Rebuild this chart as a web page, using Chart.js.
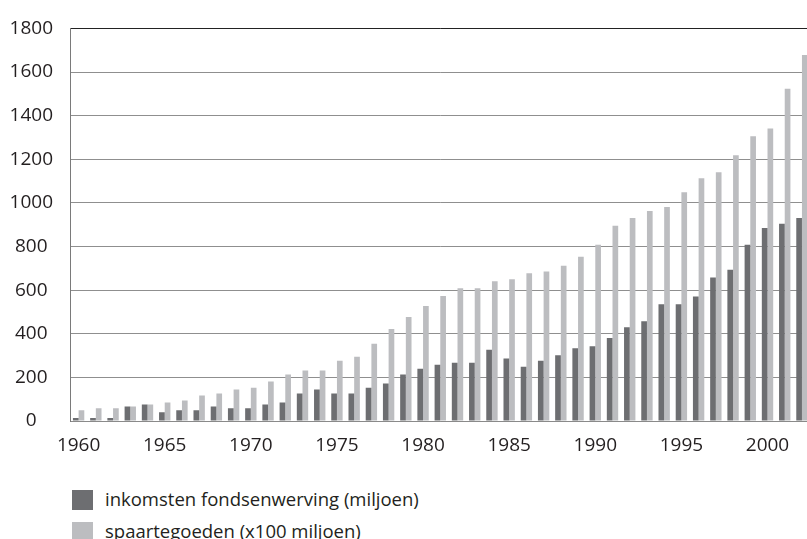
<!DOCTYPE html>
<html>
<head>
<meta charset="utf-8">
<script src="https://cdn.jsdelivr.net/npm/chart.js@4"></script>
<style>
 body { margin: 0; background: #fff; overflow: hidden; }
 #wrap { position: relative; width: 807px; height: 539px; overflow: hidden; }
 #box { position: absolute; left: 0; top: 0; width: 815px; height: 461px; }
 #legend { position: absolute; left: 72px; top: 490px; font: 18.5px "Open Sans", sans-serif; color: #231f20; }
 .row { display: flex; align-items: center; height: 20px; margin-bottom: 12px; white-space: nowrap; }
 .row span:last-child { position: relative; top: -2px; }
 .sw { width: 21px; height: 20px; margin-right: 12px; flex: none; }
</style>
</head>
<body>
<div id="wrap">
 <div id="box"><canvas id="chart"></canvas></div>
 <div id="legend"></div>
</div>
<script>
// years on the x axis
const years = [];
for (let y = 1960; y <= 2002; y++) years.push(String(y));

const seriesNames = ["inkomsten fondsenwerving (miljoen)", "spaartegoeden (x100 miljoen)"];

// inkomsten fondsenwerving (miljoen)
const inkomsten = [
 14, 14, 14, 67, 76, 40, 49, 49, 67, 58,
 58, 76, 85, 126, 144, 126, 126, 153, 172, 213,
 240, 258, 267, 267, 327, 286, 249, 276, 302, 334,
 343, 380, 430, 457, 535, 535, 571, 658, 694, 808,
 885, 904, 931
];

// spaartegoeden (x100 miljoen)
const spaartegoeden = [
 49, 59, 59, 67, 76, 85, 94, 117, 126, 144,
 153, 181, 213, 231, 231, 276, 295, 354, 422, 477,
 527, 573, 609, 609, 641, 650, 677, 686, 712, 753,
 808, 895, 931, 963, 981, 1049, 1113, 1141, 1218, 1305,
 1341, 1523, 1678
];

const yTicks = [0, 200, 400, 600, 800, 1000, 1200, 1400, 1600, 1800];

const colors = ["#6d6e71", "#bcbdc0"];
const tickFont = { family: "Open Sans", size: 19 };

const ctx = document.getElementById("chart").getContext("2d");

const chart = new Chart(ctx, {
 type: "bar",
 data: {
  labels: years,
  datasets: [
   { label: seriesNames[0], data: inkomsten, backgroundColor: colors[0] },
   { label: seriesNames[1], data: spaartegoeden, backgroundColor: colors[1] },
  ],
 },
 options: {
  responsive: true,
  maintainAspectRatio: false,
  animation: false,
  layout: { padding: { top: 24, right: 4, left: 0, bottom: 0 } },
  datasets: { bar: { barPercentage: 1, categoryPercentage: 0.66 } },
  scales: {
   x: {
    grid: { display: false, drawTicks: false },
    border: { display: true, color: "#8a8a8a", width: 1 },
    ticks: {
     autoSkip: false,
     maxRotation: 0,
     padding: 13,
     color: "#231f20",
     font: tickFont,
     callback: (v, i) => (Number(years[i]) % 5 === 0 ? years[i] : ""),
    },
    afterFit: (scale) => { scale.height = 40; },
   },
   y: {
    min: 0,
    max: 1800,
    afterBuildTicks: (scale) => { scale.ticks = yTicks.map((v) => ({ value: v })); },
    grid: {
     drawTicks: false,
     color: (c) => (c.tick && c.tick.value === 1800 ? "#222" : "#8f8f8f"),
     lineWidth: 1,
    },
    border: { display: true, color: "#7a7a7a", width: 1 },
    ticks: {
     padding: 17,
     crossAlign: "center",
     color: "#231f20",
     font: tickFont,
     callback: (v) => String(v),
    },
    afterFit: (scale) => { scale.width = 70; },
   },
  },
  plugins: {
   legend: { display: false },
   tooltip: { enabled: false },
  },
 },
});

// legend under the chart, one row per series
const legend = document.getElementById("legend");
chart.data.datasets.forEach((ds) => {
 const row = document.createElement("div");
 row.className = "row";
 const sw = document.createElement("span");
 sw.className = "sw";
 sw.style.background = ds.backgroundColor;
 const txt = document.createElement("span");
 txt.textContent = ds.label;
 row.appendChild(sw);
 row.appendChild(txt);
 legend.appendChild(row);
});
</script>
</body>
</html>
